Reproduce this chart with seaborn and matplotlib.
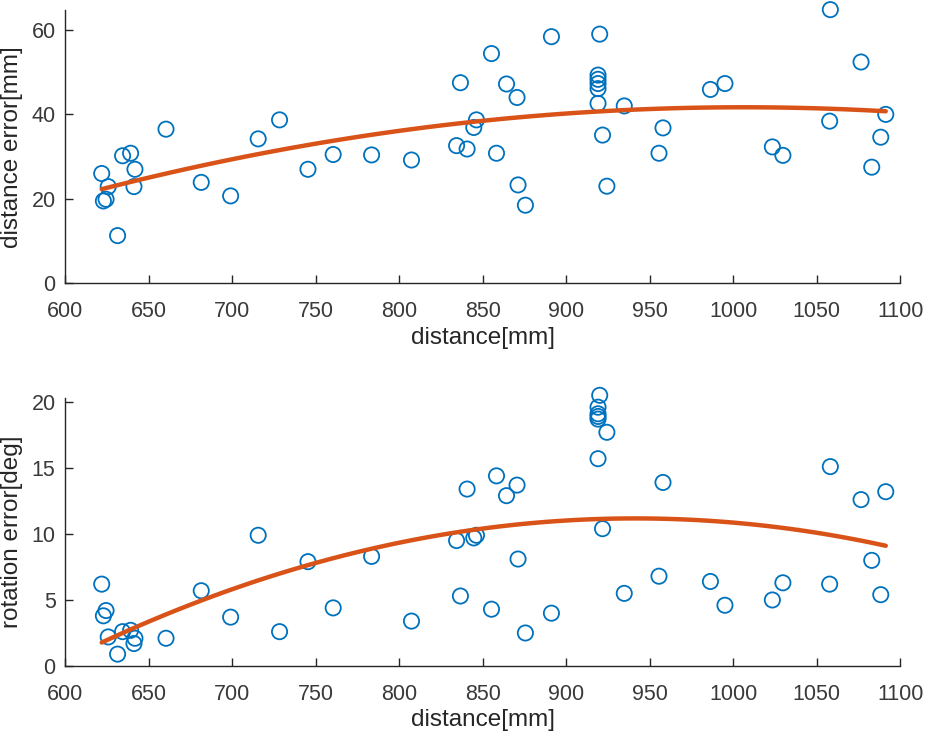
import matplotlib
matplotlib.use("Agg")
import matplotlib.pyplot as plt
import seaborn as sns
import numpy as np
import pandas as pd

# ---- data ----
distance = [621.8, 625.7, 622.8, 624.4, 631.3, 634.3, 639.1, 641.7, 641.1, 660.3,
            681.4, 699.0, 715.5, 728.3, 745.3, 760.4, 783.4, 807.3, 834.3, 840.6,
            836.6, 846.2, 844.6, 855.2, 858.2, 864.2, 870.5, 871.1, 875.5, 891.1,
            920.0, 919.0, 919.0, 919.0, 919.0, 919.0, 921.7, 934.7, 924.3, 957.9,
            955.5, 986.3, 995.0, 1023.4, 1029.7, 1058.1, 1057.7, 1076.5, 1091.3, 1088.3,
            1082.9]
distance_error = [26.0, 22.9, 19.5, 19.9, 11.3, 30.2, 30.8, 27.0, 22.9, 36.5,
                  23.9, 20.7, 34.2, 38.7, 27.0, 30.5, 30.4, 29.2, 32.6, 31.8,
                  47.5, 38.7, 36.9, 54.4, 30.8, 47.2, 44.0, 23.3, 18.5, 58.4,
                  59.0, 49.3, 48.3, 47.3, 46.1, 42.6, 35.1, 42.0, 23.0, 36.8,
                  30.8, 45.9, 47.3, 32.3, 30.3, 64.8, 38.4, 52.4, 40.0, 34.6,
                  27.5]
rotation_error = [6.2, 2.2, 3.8, 4.2, 0.9, 2.6, 2.7, 2.1, 1.7, 2.1,
                  5.7, 3.7, 9.9, 2.6, 7.9, 4.4, 8.3, 3.4, 9.5, 13.4,
                  5.3, 9.9, 9.7, 4.3, 14.4, 12.9, 13.7, 8.1, 2.5, 4.0,
                  20.5, 19.6, 19.1, 18.9, 18.7, 15.7, 10.4, 5.5, 17.7, 13.9,
                  6.8, 6.4, 4.6, 5.0, 6.3, 15.1, 6.2, 12.6, 13.2, 5.4,
                  8.0]
x_ticks = [600, 650, 700, 750, 800, 850, 900, 950, 1000, 1050, 1100]
top_yticks = [0, 20, 40, 60]
bottom_yticks = [0, 5, 10, 15, 20]

df = pd.DataFrame({"distance": distance,
                   "distance_error": distance_error,
                   "rotation_error": rotation_error})

sns.set_theme(style="ticks")
plt.rcParams['font.family'] = ['Liberation Sans', 'DejaVu Sans']

BLUE = "#0072BD"
ORANGE = "#D95319"
AXC = "#262626"

fig = plt.figure(figsize=(9.29, 7.39), dpi=100)
ax1 = fig.add_axes([0.0703, 0.6166, 0.8988, 0.3698])
ax2 = fig.add_axes([0.0703, 0.0988, 0.8988, 0.3627])

panels = [(ax1, "distance_error", "distance error[mm]", top_yticks, 64.7),
          (ax2, "rotation_error", "rotation error[deg]", bottom_yticks, 20.3)]

for ax, col, ylabel, yt, ytop in panels:
    sns.scatterplot(data=df, x="distance", y=col, ax=ax, marker="o", s=120,
                    facecolor="none", edgecolor=BLUE, linewidth=1.3, zorder=3)
    sns.regplot(data=df, x="distance", y=col, ax=ax, order=2, scatter=False,
                ci=None, truncate=True,
                line_kws=dict(color=ORANGE, lw=3.2, zorder=4))
    ax.set_xlim(600, 1100)
    ax.set_ylim(0, ytop)
    ax.set_xticks(x_ticks)
    ax.set_yticks(yt)
    ax.set_xlabel("distance[mm]", fontsize=17.5, color=AXC, labelpad=3)
    ax.set_ylabel(ylabel, fontsize=17.5, color=AXC, labelpad=6)
    for s in ["top", "right"]:
        ax.spines[s].set_visible(False)
    for s in ["left", "bottom"]:
        ax.spines[s].set_color(AXC)
        ax.spines[s].set_linewidth(1.0)
    ax.tick_params(direction="in", length=6, width=1.0, colors=AXC,
                   labelsize=15.5, labelcolor="#3a3a3a", pad=7)
    ax.tick_params(axis="x", pad=13)
    for sp in ax.spines.values():
        sp.set_zorder(5)
    for coll in ax.collections:
        coll.set_clip_on(False)

fig.savefig("out.png", dpi=100)
